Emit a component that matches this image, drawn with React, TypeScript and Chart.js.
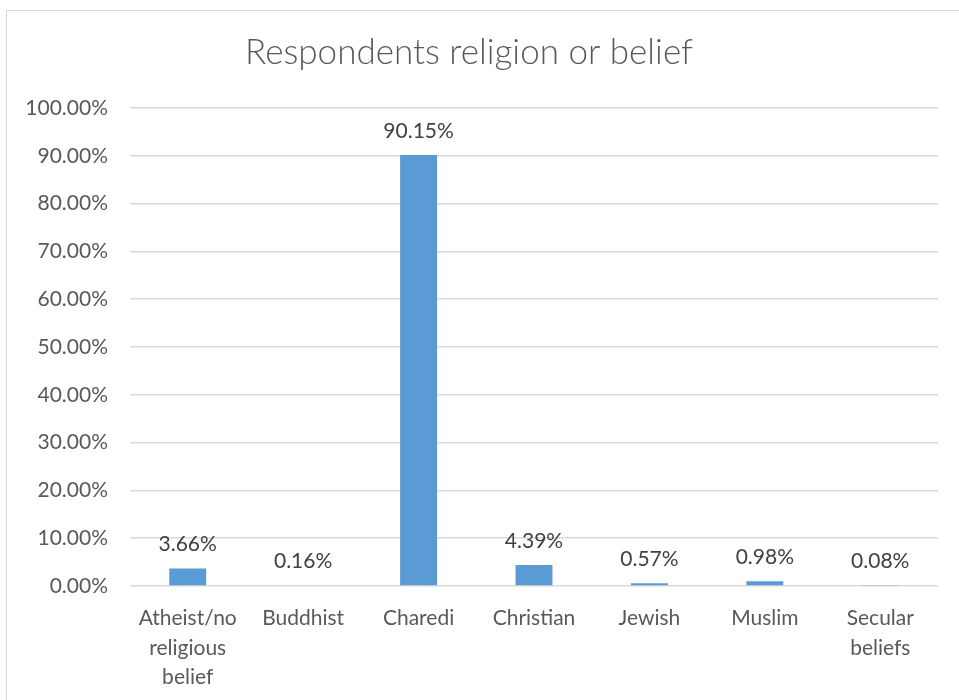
import React, { useEffect, useRef } from "react";
import { Chart, registerables } from "chart.js";

Chart.register(...registerables);

const categories: (string | string[])[] = [
  ["Atheist/no", "religious", "belief"],
  "Buddhist",
  "Charedi",
  "Christian",
  "Jewish",
  "Muslim",
  ["Secular", "beliefs"],
];
const percentages = [3.66, 0.16, 90.15, 4.39, 0.57, 0.98, 0.08];
const chartTitle = "Respondents religion or belief";

const FONT = "Lato, 'Open Sans', sans-serif";

const frame = {
  id: "frame",
  beforeDraw(chart: any) {
    const ctx = chart.ctx;
    ctx.save();
    ctx.fillStyle = "#ffffff";
    ctx.fillRect(0, 0, chart.width, chart.height);
    ctx.strokeStyle = "#D9D9D9";
    ctx.lineWidth = 1;
    ctx.strokeRect(6.5, 10.5, 2000, 2000);
    ctx.restore();
  },
};

const valueLabels = {
  id: "valueLabels",
  afterDatasetsDraw(chart: any) {
    const ctx = chart.ctx;
    const meta = chart.getDatasetMeta(0);
    ctx.save();
    ctx.fillStyle = "#404040";
    ctx.font = `21px ${FONT}`;
    ctx.textAlign = "center";
    ctx.textBaseline = "middle";
    meta.data.forEach((bar: any, i: number) => {
      const v = chart.data.datasets[0].data[i] as number;
      ctx.fillText(v.toFixed(2) + "%", bar.x, bar.y - 24);
    });
    ctx.restore();
  },
};

export default function App() {
  const ref = useRef<HTMLCanvasElement>(null);
  useEffect(() => {
    document.body.style.margin = "0";
    const chart = new Chart(ref.current!, {
      type: "bar",
      data: {
        labels: categories,
        datasets: [
          {
            data: percentages,
            backgroundColor: "#5B9BD5",
            borderWidth: 0,
            categoryPercentage: 1,
            barPercentage: 0.32,
          },
        ],
      },
      options: {
        animation: false,
        responsive: false,
        layout: { padding: { left: 0, right: 21, top: 0, bottom: 0 } },
        plugins: {
          legend: { display: false },
          tooltip: { enabled: false },
          title: {
            display: true,
            text: chartTitle,
            color: "#595959",
            font: { family: FONT, size: 35, weight: "300" as any, lineHeight: 1.2 },
            padding: { top: 32, bottom: 34 },
          },
        },
        scales: {
          x: {
            grid: { display: false, drawTicks: false },
            border: { display: false },
            ticks: {
              color: "#595959",
              font: { family: FONT, size: 21, lineHeight: 1.4 },
              padding: 18,
              maxRotation: 0,
              autoSkip: false,
            },
            afterFit(scale: any) {
              scale.height = 114;
            },
          },
          y: {
            min: 0,
            max: 100,
            ticks: {
              stepSize: 10,
              color: "#595959",
              font: { family: FONT, size: 21 },
              padding: 22,
              callback: (v: any) => Number(v).toFixed(2) + "%",
            },
            grid: { color: "#D9D9D9", drawTicks: false, lineWidth: 1.5 },
            border: { display: false },
            afterFit(scale: any) {
              scale.width = 130;
            },
          },
        },
      },
      plugins: [frame, valueLabels],
    });
    return () => chart.destroy();
  }, []);
  return (
    <div style={{ width: 959, height: 700 }}>
      <canvas ref={ref} width={959} height={700} />
    </div>
  );
}
